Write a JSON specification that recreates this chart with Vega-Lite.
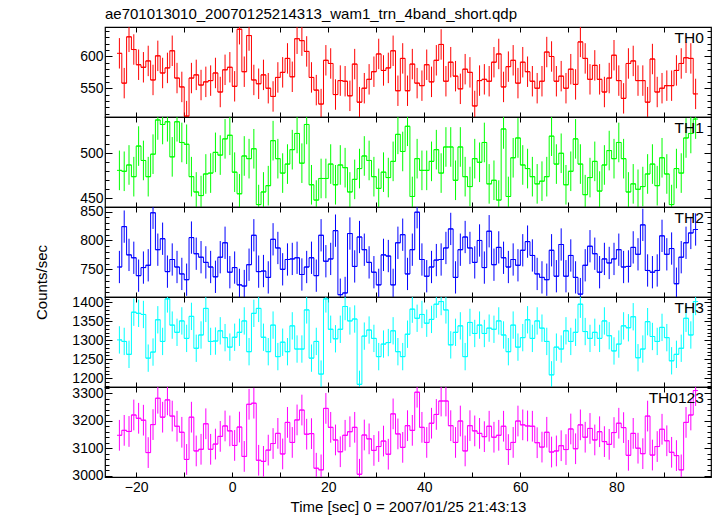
{
"$schema":"https://vega.github.io/schema/vega-lite/v6.json",
"padding":{"left":33,"top":6,"right":5,"bottom":0},
"title":{"text":"ae701013010_20070125214313_wam1_trn_4band_short.qdp","anchor":"start","frame":"group","fontSize":15,"offset":-10,"baseline":"alphabetic"},
"spacing":0,
"bounds":"flush",
"data":{"values":[
{"t":-23.5,"th0":605,"th1":481,"th2":754,"th3":1301,"th0123":3147,"e0":24,"e1":22,"e2":28,"e3":36,"e0123":56},
{"t":-22.5,"th0":558,"th1":480,"th2":824,"th3":1297,"th0123":3165,"e0":24,"e1":22,"e2":28,"e3":36,"e0123":56},
{"t":-21.5,"th0":631,"th1":487,"th2":775,"th3":1263,"th0123":3161,"e0":24,"e1":22,"e2":28,"e3":36,"e0123":56},
{"t":-20.5,"th0":611,"th1":474,"th2":770,"th3":1374,"th0123":3221,"e0":24,"e1":22,"e2":28,"e3":36,"e0123":56},
{"t":-19.5,"th0":587,"th1":508,"th2":739,"th3":1371,"th0123":3209,"e0":24,"e1":22,"e2":28,"e3":36,"e0123":56},
{"t":-18.5,"th0":583,"th1":492,"th2":753,"th3":1368,"th0123":3202,"e0":24,"e1":22,"e2":28,"e3":36,"e0123":56},
{"t":-17.5,"th0":593,"th1":474,"th2":757,"th3":1253,"th0123":3084,"e0":24,"e1":22,"e2":28,"e3":36,"e0123":56},
{"t":-16.5,"th0":563,"th1":499,"th2":848,"th3":1269,"th0123":3186,"e0":24,"e1":22,"e2":28,"e3":36,"e0123":56},
{"t":-15.5,"th0":601,"th1":537,"th2":784,"th3":1354,"th0123":3282,"e0":24,"e1":22,"e2":28,"e3":36,"e0123":56},
{"t":-14.5,"th0":574,"th1":532,"th2":803,"th3":1297,"th0123":3213,"e0":24,"e1":22,"e2":28,"e3":36,"e0123":56},
{"t":-13.5,"th0":582,"th1":535,"th2":746,"th3":1409,"th0123":3276,"e0":24,"e1":22,"e2":28,"e3":36,"e0123":56},
{"t":-12.5,"th0":609,"th1":496,"th2":767,"th3":1340,"th0123":3217,"e0":24,"e1":22,"e2":28,"e3":36,"e0123":56},
{"t":-11.5,"th0":566,"th1":535,"th2":754,"th3":1321,"th0123":3180,"e0":24,"e1":22,"e2":28,"e3":36,"e0123":56},
{"t":-10.5,"th0":552,"th1":512,"th2":742,"th3":1351,"th0123":3158,"e0":24,"e1":22,"e2":28,"e3":36,"e0123":56},
{"t":-9.5,"th0":506,"th1":510,"th2":732,"th3":1305,"th0123":3059,"e0":24,"e1":22,"e2":28,"e3":36,"e0123":56},
{"t":-8.5,"th0":566,"th1":474,"th2":805,"th3":1363,"th0123":3213,"e0":24,"e1":22,"e2":28,"e3":36,"e0123":56},
{"t":-7.5,"th0":571,"th1":457,"th2":777,"th3":1279,"th0123":3090,"e0":24,"e1":22,"e2":28,"e3":36,"e0123":56},
{"t":-6.5,"th0":555,"th1":453,"th2":771,"th3":1314,"th0123":3096,"e0":24,"e1":22,"e2":28,"e3":36,"e0123":56},
{"t":-5.5,"th0":560,"th1":477,"th2":762,"th3":1384,"th0123":3189,"e0":24,"e1":22,"e2":28,"e3":36,"e0123":56},
{"t":-4.5,"th0":562,"th1":478,"th2":754,"th3":1297,"th0123":3096,"e0":24,"e1":22,"e2":28,"e3":36,"e0123":56},
{"t":-3.5,"th0":574,"th1":501,"th2":737,"th3":1298,"th0123":3115,"e0":24,"e1":22,"e2":28,"e3":36,"e0123":56},
{"t":-2.5,"th0":544,"th1":498,"th2":771,"th3":1325,"th0123":3143,"e0":24,"e1":22,"e2":28,"e3":36,"e0123":56},
{"t":-1.5,"th0":579,"th1":516,"th2":796,"th3":1307,"th0123":3181,"e0":24,"e1":22,"e2":28,"e3":36,"e0123":56},
{"t":-0.5,"th0":583,"th1":520,"th2":745,"th3":1282,"th0123":3163,"e0":24,"e1":22,"e2":28,"e3":36,"e0123":56},
{"t":0.5,"th0":553,"th1":479,"th2":753,"th3":1308,"th0123":3110,"e0":24,"e1":22,"e2":28,"e3":36,"e0123":56},
{"t":1.5,"th0":643,"th1":455,"th2":723,"th3":1321,"th0123":3177,"e0":24,"e1":22,"e2":28,"e3":36,"e0123":56},
{"t":2.5,"th0":576,"th1":497,"th2":721,"th3":1351,"th0123":3070,"e0":24,"e1":22,"e2":28,"e3":36,"e0123":56},
{"t":3.5,"th0":633,"th1":494,"th2":758,"th3":1270,"th0123":3260,"e0":24,"e1":22,"e2":28,"e3":36,"e0123":56},
{"t":4.5,"th0":563,"th1":505,"th2":809,"th3":1371,"th0123":3264,"e0":24,"e1":22,"e2":28,"e3":36,"e0123":56},
{"t":5.5,"th0":557,"th1":443,"th2":746,"th3":1384,"th0123":3056,"e0":24,"e1":22,"e2":28,"e3":36,"e0123":56},
{"t":6.5,"th0":571,"th1":457,"th2":747,"th3":1308,"th0123":3052,"e0":24,"e1":22,"e2":28,"e3":36,"e0123":56},
{"t":7.5,"th0":550,"th1":464,"th2":736,"th3":1270,"th0123":3093,"e0":24,"e1":22,"e2":28,"e3":36,"e0123":56},
{"t":8.5,"th0":537,"th1":514,"th2":802,"th3":1340,"th0123":3117,"e0":24,"e1":22,"e2":28,"e3":36,"e0123":56},
{"t":9.5,"th0":567,"th1":494,"th2":787,"th3":1257,"th0123":3154,"e0":24,"e1":22,"e2":28,"e3":36,"e0123":56},
{"t":10.5,"th0":575,"th1":478,"th2":750,"th3":1295,"th0123":3079,"e0":24,"e1":22,"e2":28,"e3":36,"e0123":56},
{"t":11.5,"th0":597,"th1":488,"th2":767,"th3":1270,"th0123":3194,"e0":24,"e1":22,"e2":28,"e3":36,"e0123":56},
{"t":12.5,"th0":568,"th1":504,"th2":768,"th3":1338,"th0123":3121,"e0":24,"e1":22,"e2":28,"e3":36,"e0123":56},
{"t":13.5,"th0":628,"th1":522,"th2":770,"th3":1277,"th0123":3203,"e0":24,"e1":22,"e2":28,"e3":36,"e0123":56},
{"t":14.5,"th0":625,"th1":489,"th2":741,"th3":1277,"th0123":3239,"e0":24,"e1":22,"e2":28,"e3":36,"e0123":56},
{"t":15.5,"th0":608,"th1":532,"th2":754,"th3":1380,"th0123":3151,"e0":24,"e1":22,"e2":28,"e3":36,"e0123":56},
{"t":16.5,"th0":567,"th1":465,"th2":770,"th3":1253,"th0123":3153,"e0":24,"e1":22,"e2":28,"e3":36,"e0123":56},
{"t":17.5,"th0":547,"th1":448,"th2":739,"th3":1297,"th0123":3027,"e0":24,"e1":22,"e2":28,"e3":36,"e0123":56},
{"t":18.5,"th0":525,"th1":472,"th2":809,"th3":1211,"th0123":3021,"e0":24,"e1":22,"e2":28,"e3":36,"e0123":56},
{"t":19.5,"th0":594,"th1":472,"th2":764,"th3":1409,"th0123":3245,"e0":24,"e1":22,"e2":28,"e3":36,"e0123":56},
{"t":20.5,"th0":589,"th1":488,"th2":768,"th3":1329,"th0123":3176,"e0":24,"e1":22,"e2":28,"e3":36,"e0123":56},
{"t":21.5,"th0":540,"th1":465,"th2":817,"th3":1304,"th0123":3130,"e0":24,"e1":22,"e2":28,"e3":36,"e0123":56},
{"t":22.5,"th0":562,"th1":487,"th2":706,"th3":1329,"th0123":3087,"e0":24,"e1":22,"e2":28,"e3":36,"e0123":56},
{"t":23.5,"th0":561,"th1":484,"th2":709,"th3":1389,"th0123":3147,"e0":24,"e1":22,"e2":28,"e3":36,"e0123":56},
{"t":24.5,"th0":538,"th1":457,"th2":812,"th3":1351,"th0123":3160,"e0":24,"e1":22,"e2":28,"e3":36,"e0123":56},
{"t":25.5,"th0":588,"th1":471,"th2":755,"th3":1356,"th0123":3176,"e0":24,"e1":22,"e2":28,"e3":36,"e0123":56},
{"t":26.5,"th0":528,"th1":483,"th2":806,"th3":1184,"th0123":3005,"e0":24,"e1":22,"e2":28,"e3":36,"e0123":56},
{"t":27.5,"th0":550,"th1":497,"th2":784,"th3":1311,"th0123":3148,"e0":24,"e1":22,"e2":28,"e3":36,"e0123":56},
{"t":28.5,"th0":564,"th1":492,"th2":762,"th3":1327,"th0123":3134,"e0":24,"e1":22,"e2":28,"e3":36,"e0123":56},
{"t":29.5,"th0":576,"th1":474,"th2":745,"th3":1305,"th0123":3092,"e0":24,"e1":22,"e2":28,"e3":36,"e0123":56},
{"t":30.5,"th0":604,"th1":461,"th2":723,"th3":1257,"th0123":3106,"e0":24,"e1":22,"e2":28,"e3":36,"e0123":56},
{"t":31.5,"th0":578,"th1":479,"th2":775,"th3":1290,"th0123":3126,"e0":24,"e1":22,"e2":28,"e3":36,"e0123":56},
{"t":32.5,"th0":582,"th1":473,"th2":773,"th3":1294,"th0123":3078,"e0":24,"e1":22,"e2":28,"e3":36,"e0123":56},
{"t":33.5,"th0":609,"th1":491,"th2":723,"th3":1325,"th0123":3225,"e0":24,"e1":22,"e2":28,"e3":36,"e0123":56},
{"t":34.5,"th0":546,"th1":521,"th2":796,"th3":1270,"th0123":3152,"e0":24,"e1":22,"e2":28,"e3":36,"e0123":56},
{"t":35.5,"th0":597,"th1":502,"th2":810,"th3":1257,"th0123":3103,"e0":24,"e1":22,"e2":28,"e3":36,"e0123":56},
{"t":36.5,"th0":546,"th1":530,"th2":742,"th3":1316,"th0123":3182,"e0":24,"e1":22,"e2":28,"e3":36,"e0123":56},
{"t":37.5,"th0":588,"th1":452,"th2":784,"th3":1382,"th0123":3165,"e0":24,"e1":22,"e2":28,"e3":36,"e0123":56},
{"t":38.5,"th0":558,"th1":494,"th2":849,"th3":1358,"th0123":3304,"e0":24,"e1":22,"e2":28,"e3":36,"e0123":56},
{"t":39.5,"th0":554,"th1":481,"th2":767,"th3":1368,"th0123":3176,"e0":24,"e1":22,"e2":28,"e3":36,"e0123":56},
{"t":40.5,"th0":587,"th1":481,"th2":738,"th3":1345,"th0123":3121,"e0":24,"e1":22,"e2":28,"e3":36,"e0123":56},
{"t":41.5,"th0":560,"th1":491,"th2":754,"th3":1355,"th0123":3191,"e0":24,"e1":22,"e2":28,"e3":36,"e0123":56},
{"t":42.5,"th0":594,"th1":504,"th2":766,"th3":1395,"th0123":3223,"e0":24,"e1":22,"e2":28,"e3":36,"e0123":56},
{"t":43.5,"th0":619,"th1":478,"th2":767,"th3":1402,"th0123":3272,"e0":24,"e1":22,"e2":28,"e3":36,"e0123":56},
{"t":44.5,"th0":561,"th1":507,"th2":787,"th3":1380,"th0123":3272,"e0":24,"e1":22,"e2":28,"e3":36,"e0123":56},
{"t":45.5,"th0":591,"th1":507,"th2":820,"th3":1288,"th0123":3182,"e0":24,"e1":22,"e2":28,"e3":36,"e0123":56},
{"t":46.5,"th0":569,"th1":470,"th2":736,"th3":1321,"th0123":3121,"e0":24,"e1":22,"e2":28,"e3":36,"e0123":56},
{"t":47.5,"th0":549,"th1":507,"th2":784,"th3":1338,"th0123":3199,"e0":24,"e1":22,"e2":28,"e3":36,"e0123":56},
{"t":48.5,"th0":580,"th1":474,"th2":806,"th3":1257,"th0123":3090,"e0":24,"e1":22,"e2":28,"e3":36,"e0123":56},
{"t":49.5,"th0":575,"th1":463,"th2":787,"th3":1347,"th0123":3182,"e0":24,"e1":22,"e2":28,"e3":36,"e0123":56},
{"t":50.5,"th0":522,"th1":494,"th2":762,"th3":1318,"th0123":3163,"e0":24,"e1":22,"e2":28,"e3":36,"e0123":56},
{"t":51.5,"th0":562,"th1":490,"th2":800,"th3":1340,"th0123":3154,"e0":24,"e1":22,"e2":28,"e3":36,"e0123":56},
{"t":52.5,"th0":564,"th1":512,"th2":753,"th3":1318,"th0123":3142,"e0":24,"e1":22,"e2":28,"e3":36,"e0123":56},
{"t":53.5,"th0":561,"th1":466,"th2":816,"th3":1332,"th0123":3180,"e0":24,"e1":22,"e2":28,"e3":36,"e0123":56},
{"t":54.5,"th0":591,"th1":470,"th2":758,"th3":1329,"th0123":3140,"e0":24,"e1":22,"e2":28,"e3":36,"e0123":56},
{"t":55.5,"th0":604,"th1":448,"th2":788,"th3":1351,"th0123":3147,"e0":24,"e1":22,"e2":28,"e3":36,"e0123":56},
{"t":56.5,"th0":552,"th1":527,"th2":770,"th3":1314,"th0123":3180,"e0":24,"e1":22,"e2":28,"e3":36,"e0123":56},
{"t":57.5,"th0":584,"th1":452,"th2":754,"th3":1270,"th0123":3095,"e0":24,"e1":22,"e2":28,"e3":36,"e0123":56},
{"t":58.5,"th0":594,"th1":495,"th2":767,"th3":1340,"th0123":3121,"e0":24,"e1":22,"e2":28,"e3":36,"e0123":56},
{"t":59.5,"th0":558,"th1":517,"th2":757,"th3":1282,"th0123":3199,"e0":24,"e1":22,"e2":28,"e3":36,"e0123":56},
{"t":60.5,"th0":591,"th1":487,"th2":783,"th3":1307,"th0123":3185,"e0":24,"e1":22,"e2":28,"e3":36,"e0123":56},
{"t":61.5,"th0":576,"th1":483,"th2":798,"th3":1354,"th0123":3181,"e0":24,"e1":22,"e2":28,"e3":36,"e0123":56},
{"t":62.5,"th0":561,"th1":474,"th2":774,"th3":1305,"th0123":3180,"e0":24,"e1":22,"e2":28,"e3":36,"e0123":56},
{"t":63.5,"th0":550,"th1":466,"th2":742,"th3":1351,"th0123":3120,"e0":24,"e1":22,"e2":28,"e3":36,"e0123":56},
{"t":64.5,"th0":561,"th1":469,"th2":736,"th3":1332,"th0123":3104,"e0":24,"e1":22,"e2":28,"e3":36,"e0123":56},
{"t":65.5,"th0":607,"th1":474,"th2":732,"th3":1297,"th0123":3158,"e0":24,"e1":22,"e2":28,"e3":36,"e0123":56},
{"t":66.5,"th0":600,"th1":519,"th2":783,"th3":1209,"th0123":3086,"e0":24,"e1":22,"e2":28,"e3":36,"e0123":56},
{"t":67.5,"th0":561,"th1":488,"th2":738,"th3":1282,"th0123":3090,"e0":24,"e1":22,"e2":28,"e3":36,"e0123":56},
{"t":68.5,"th0":569,"th1":500,"th2":793,"th3":1277,"th0123":3109,"e0":24,"e1":22,"e2":28,"e3":36,"e0123":56},
{"t":69.5,"th0":550,"th1":465,"th2":738,"th3":1325,"th0123":3095,"e0":24,"e1":22,"e2":28,"e3":36,"e0123":56},
{"t":70.5,"th0":580,"th1":480,"th2":774,"th3":1297,"th0123":3170,"e0":24,"e1":22,"e2":28,"e3":36,"e0123":56},
{"t":71.5,"th0":556,"th1":516,"th2":736,"th3":1321,"th0123":3098,"e0":24,"e1":22,"e2":28,"e3":36,"e0123":56},
{"t":72.5,"th0":623,"th1":488,"th2":707,"th3":1395,"th0123":3185,"e0":24,"e1":22,"e2":28,"e3":36,"e0123":56},
{"t":73.5,"th0":597,"th1":454,"th2":757,"th3":1323,"th0123":3140,"e0":24,"e1":22,"e2":28,"e3":36,"e0123":56},
{"t":74.5,"th0":564,"th1":473,"th2":790,"th3":1305,"th0123":3172,"e0":24,"e1":22,"e2":28,"e3":36,"e0123":56},
{"t":75.5,"th0":586,"th1":491,"th2":777,"th3":1321,"th0123":3130,"e0":24,"e1":22,"e2":28,"e3":36,"e0123":56},
{"t":76.5,"th0":564,"th1":458,"th2":745,"th3":1305,"th0123":3160,"e0":24,"e1":22,"e2":28,"e3":36,"e0123":56},
{"t":77.5,"th0":544,"th1":487,"th2":768,"th3":1351,"th0123":3124,"e0":24,"e1":22,"e2":28,"e3":36,"e0123":56},
{"t":78.5,"th0":566,"th1":503,"th2":761,"th3":1312,"th0123":3114,"e0":24,"e1":22,"e2":28,"e3":36,"e0123":56},
{"t":79.5,"th0":602,"th1":494,"th2":768,"th3":1272,"th0123":3157,"e0":24,"e1":22,"e2":28,"e3":36,"e0123":56},
{"t":80.5,"th0":562,"th1":512,"th2":784,"th3":1290,"th0123":3191,"e0":24,"e1":22,"e2":28,"e3":36,"e0123":56},
{"t":81.5,"th0":534,"th1":494,"th2":754,"th3":1338,"th0123":3175,"e0":24,"e1":22,"e2":28,"e3":36,"e0123":56},
{"t":82.5,"th0":589,"th1":457,"th2":755,"th3":1333,"th0123":3074,"e0":24,"e1":22,"e2":28,"e3":36,"e0123":56},
{"t":83.5,"th0":593,"th1":466,"th2":788,"th3":1362,"th0123":3154,"e0":24,"e1":22,"e2":28,"e3":36,"e0123":56},
{"t":84.5,"th0":562,"th1":460,"th2":776,"th3":1254,"th0123":3100,"e0":24,"e1":22,"e2":28,"e3":36,"e0123":56},
{"t":85.5,"th0":562,"th1":463,"th2":827,"th3":1277,"th0123":3080,"e0":24,"e1":22,"e2":28,"e3":36,"e0123":56},
{"t":86.5,"th0":528,"th1":477,"th2":748,"th3":1349,"th0123":3217,"e0":24,"e1":22,"e2":28,"e3":36,"e0123":56},
{"t":87.5,"th0":596,"th1":488,"th2":745,"th3":1310,"th0123":3075,"e0":24,"e1":22,"e2":28,"e3":36,"e0123":56},
{"t":88.5,"th0":544,"th1":464,"th2":748,"th3":1297,"th0123":3106,"e0":24,"e1":22,"e2":28,"e3":36,"e0123":56},
{"t":89.5,"th0":550,"th1":495,"th2":808,"th3":1334,"th0123":3169,"e0":24,"e1":22,"e2":28,"e3":36,"e0123":56},
{"t":90.5,"th0":554,"th1":477,"th2":776,"th3":1307,"th0123":3127,"e0":24,"e1":22,"e2":28,"e3":36,"e0123":56},
{"t":91.5,"th0":554,"th1":443,"th2":786,"th3":1246,"th0123":3085,"e0":24,"e1":22,"e2":28,"e3":36,"e0123":56},
{"t":92.5,"th0":578,"th1":483,"th2":725,"th3":1263,"th0123":3073,"e0":24,"e1":22,"e2":28,"e3":36,"e0123":56},
{"t":93.5,"th0":589,"th1":478,"th2":771,"th3":1279,"th0123":3021,"e0":24,"e1":22,"e2":28,"e3":36,"e0123":56},
{"t":94.5,"th0":598,"th1":517,"th2":796,"th3":1358,"th0123":3194,"e0":24,"e1":22,"e2":28,"e3":36,"e0123":56},
{"t":95.5,"th0":597,"th1":522,"th2":813,"th3":1314,"th0123":3221,"e0":24,"e1":22,"e2":28,"e3":36,"e0123":56},
{"t":96.5,"th0":541,"th1":538,"th2":819,"th3":1402,"th0123":3310,"e0":24,"e1":22,"e2":28,"e3":36,"e0123":56}
]},
"vconcat":[
{"width":606,"height":90,
 "layer":[
  {"mark":{"type":"errorbar","color":"#ff0000","clip":true},
   "encoding":{"x":{"field":"t","type":"quantitative","scale":{"domain":[-26.5,99.7],"nice":false,"zero":false},"axis":null},
    "y":{"field":"th0","type":"quantitative","scale":{"domain":[504.6,646.5],"nice":false,"zero":false},"axis":null},
    "yError":{"field":"e0"}}},
  {"mark":{"type":"line","interpolate":"step","color":"#ff0000","strokeWidth":1,"clip":true},
   "encoding":{"x":{"field":"t","type":"quantitative","scale":{"domain":[-26.5,99.7],"nice":false,"zero":false},
     "axis":{"orient":"bottom","values":[-20,-10,0,10,20,30,40,50,60,70,80,90],"tickSize":-5,"labels":false,"domain":false,"grid":false,"title":null}},
    "y":{"field":"th0","type":"quantitative","scale":{"domain":[504.6,646.5],"nice":false,"zero":false},
     "axis":{"orient":"left","values":[510,520,530,540,550,560,570,580,590,600,610,620,630,640],"format":"d","labelExpr":"datum.value % 50 === 0 ? datum.label : ''","tickSize":{"condition":{"test":"datum.value % 50 === 0","value":-7},"value":-4},"labelPadding":9,"minExtent":45,"maxExtent":45,"domain":false,"grid":false,"title":null}}}},
  {"transform":[{"bin":{"step":1,"extent":[-24,97]},"field":"t","as":["t0","t1"]}],
   "mark":{"type":"rule","color":"#ff0000","strokeWidth":1,"clip":true},
   "encoding":{"x":{"field":"t0","type":"quantitative","scale":{"domain":[-26.5,99.7],"nice":false,"zero":false},
     "axis":{"orient":"top","values":[-20,-10,0,10,20,30,40,50,60,70,80,90],"tickSize":-5,"labels":false,"domain":false,"grid":false,"title":null}},
    "x2":{"field":"t1"},
    "y":{"field":"th0","type":"quantitative","scale":{"domain":[504.6,646.5],"nice":false,"zero":false},
     "axis":{"orient":"right","values":[510,520,530,540,550,560,570,580,590,600,610,620,630,640],"labels":false,"tickSize":{"condition":{"test":"datum.value % 50 === 0","value":-7},"value":-4},"domain":false,"grid":false,"title":null}}}},
  {"data":{"values":[{"label":"TH0"}]},
   "mark":{"type":"text","align":"right","baseline":"alphabetic","fontSize":15.5,"color":"black","font":"Liberation Sans"},
   "encoding":{"text":{"field":"label"},
    "x":{"datum":98.2,"type":"quantitative","scale":{"domain":[-26.5,99.7],"nice":false,"zero":false},"axis":null},
    "y":{"datum":621.3,"type":"quantitative","scale":{"domain":[504.6,646.5],"nice":false,"zero":false},"axis":null}}}
 ],
 "resolve":{"axis":{"x":"independent","y":"independent"}}},
{"width":606,"height":90,
 "layer":[
  {"mark":{"type":"errorbar","color":"#00ff00","clip":true},
   "encoding":{"x":{"field":"t","type":"quantitative","scale":{"domain":[-26.5,99.7],"nice":false,"zero":false},"axis":null},
    "y":{"field":"th1","type":"quantitative","scale":{"domain":[440.3,540.3],"nice":false,"zero":false},"axis":null},
    "yError":{"field":"e1"}}},
  {"mark":{"type":"line","interpolate":"step","color":"#00ff00","strokeWidth":1,"clip":true},
   "encoding":{"x":{"field":"t","type":"quantitative","scale":{"domain":[-26.5,99.7],"nice":false,"zero":false},
     "axis":{"orient":"bottom","values":[-20,-10,0,10,20,30,40,50,60,70,80,90],"tickSize":-5,"labels":false,"domain":false,"grid":false,"title":null}},
    "y":{"field":"th1","type":"quantitative","scale":{"domain":[440.3,540.3],"nice":false,"zero":false},
     "axis":{"orient":"left","values":[450,460,470,480,490,500,510,520,530,540],"format":"d","labelExpr":"datum.value % 50 === 0 ? datum.label : ''","tickSize":{"condition":{"test":"datum.value % 50 === 0","value":-7},"value":-4},"labelPadding":9,"minExtent":45,"maxExtent":45,"domain":false,"grid":false,"title":null}}}},
  {"transform":[{"bin":{"step":1,"extent":[-24,97]},"field":"t","as":["t0","t1"]}],
   "mark":{"type":"rule","color":"#00ff00","strokeWidth":1,"clip":true},
   "encoding":{"x":{"field":"t0","type":"quantitative","scale":{"domain":[-26.5,99.7],"nice":false,"zero":false},
     "axis":{"orient":"top","values":[-20,-10,0,10,20,30,40,50,60,70,80,90],"tickSize":-5,"labels":false,"domain":false,"grid":false,"title":null}},
    "x2":{"field":"t1"},
    "y":{"field":"th1","type":"quantitative","scale":{"domain":[440.3,540.3],"nice":false,"zero":false},
     "axis":{"orient":"right","values":[450,460,470,480,490,500,510,520,530,540],"labels":false,"tickSize":{"condition":{"test":"datum.value % 50 === 0","value":-7},"value":-4},"domain":false,"grid":false,"title":null}}}},
  {"data":{"values":[{"label":"TH1"}]},
   "mark":{"type":"text","align":"right","baseline":"alphabetic","fontSize":15.5,"color":"black","font":"Liberation Sans"},
   "encoding":{"text":{"field":"label"},
    "x":{"datum":98.2,"type":"quantitative","scale":{"domain":[-26.5,99.7],"nice":false,"zero":false},"axis":null},
    "y":{"datum":522.5,"type":"quantitative","scale":{"domain":[440.3,540.3],"nice":false,"zero":false},"axis":null}}}
 ],
 "resolve":{"axis":{"x":"independent","y":"independent"}}},
{"width":606,"height":90,
 "layer":[
  {"mark":{"type":"errorbar","color":"#0000ff","clip":true},
   "encoding":{"x":{"field":"t","type":"quantitative","scale":{"domain":[-26.5,99.7],"nice":false,"zero":false},"axis":null},
    "y":{"field":"th2","type":"quantitative","scale":{"domain":[702,858],"nice":false,"zero":false},"axis":null},
    "yError":{"field":"e2"}}},
  {"mark":{"type":"line","interpolate":"step","color":"#0000ff","strokeWidth":1,"clip":true},
   "encoding":{"x":{"field":"t","type":"quantitative","scale":{"domain":[-26.5,99.7],"nice":false,"zero":false},
     "axis":{"orient":"bottom","values":[-20,-10,0,10,20,30,40,50,60,70,80,90],"tickSize":-5,"labels":false,"domain":false,"grid":false,"title":null}},
    "y":{"field":"th2","type":"quantitative","scale":{"domain":[702,858],"nice":false,"zero":false},
     "axis":{"orient":"left","values":[710,720,730,740,750,760,770,780,790,800,810,820,830,840,850],"format":"d","labelExpr":"datum.value % 50 === 0 ? datum.label : ''","tickSize":{"condition":{"test":"datum.value % 50 === 0","value":-7},"value":-4},"labelPadding":9,"minExtent":45,"maxExtent":45,"domain":false,"grid":false,"title":"Counts/sec","titlePadding":11,"titleAlign":"center","titleY":75}}}},
  {"transform":[{"bin":{"step":1,"extent":[-24,97]},"field":"t","as":["t0","t1"]}],
   "mark":{"type":"rule","color":"#0000ff","strokeWidth":1,"clip":true},
   "encoding":{"x":{"field":"t0","type":"quantitative","scale":{"domain":[-26.5,99.7],"nice":false,"zero":false},
     "axis":{"orient":"top","values":[-20,-10,0,10,20,30,40,50,60,70,80,90],"tickSize":-5,"labels":false,"domain":false,"grid":false,"title":null}},
    "x2":{"field":"t1"},
    "y":{"field":"th2","type":"quantitative","scale":{"domain":[702,858],"nice":false,"zero":false},
     "axis":{"orient":"right","values":[710,720,730,740,750,760,770,780,790,800,810,820,830,840,850],"labels":false,"tickSize":{"condition":{"test":"datum.value % 50 === 0","value":-7},"value":-4},"domain":false,"grid":false,"title":null}}}},
  {"data":{"values":[{"label":"TH2"}]},
   "mark":{"type":"text","align":"right","baseline":"alphabetic","fontSize":15.5,"color":"black","font":"Liberation Sans"},
   "encoding":{"text":{"field":"label"},
    "x":{"datum":98.2,"type":"quantitative","scale":{"domain":[-26.5,99.7],"nice":false,"zero":false},"axis":null},
    "y":{"datum":830.3,"type":"quantitative","scale":{"domain":[702,858],"nice":false,"zero":false},"axis":null}}}
 ],
 "resolve":{"axis":{"x":"independent","y":"independent"}}},
{"width":606,"height":90,
 "layer":[
  {"mark":{"type":"errorbar","color":"#00ffff","clip":true},
   "encoding":{"x":{"field":"t","type":"quantitative","scale":{"domain":[-26.5,99.7],"nice":false,"zero":false},"axis":null},
    "y":{"field":"th3","type":"quantitative","scale":{"domain":[1177,1414],"nice":false,"zero":false},"axis":null},
    "yError":{"field":"e3"}}},
  {"mark":{"type":"line","interpolate":"step","color":"#00ffff","strokeWidth":1,"clip":true},
   "encoding":{"x":{"field":"t","type":"quantitative","scale":{"domain":[-26.5,99.7],"nice":false,"zero":false},
     "axis":{"orient":"bottom","values":[-20,-10,0,10,20,30,40,50,60,70,80,90],"tickSize":-5,"labels":false,"domain":false,"grid":false,"title":null}},
    "y":{"field":"th3","type":"quantitative","scale":{"domain":[1177,1414],"nice":false,"zero":false},
     "axis":{"orient":"left","values":[1180,1190,1200,1210,1220,1230,1240,1250,1260,1270,1280,1290,1300,1310,1320,1330,1340,1350,1360,1370,1380,1390,1400,1410],"format":"d","labelExpr":"datum.value % 50 === 0 ? datum.label : ''","tickSize":{"condition":{"test":"datum.value % 50 === 0","value":-7},"value":-4},"labelPadding":9,"minExtent":45,"maxExtent":45,"domain":false,"grid":false,"title":null}}}},
  {"transform":[{"bin":{"step":1,"extent":[-24,97]},"field":"t","as":["t0","t1"]}],
   "mark":{"type":"rule","color":"#00ffff","strokeWidth":1,"clip":true},
   "encoding":{"x":{"field":"t0","type":"quantitative","scale":{"domain":[-26.5,99.7],"nice":false,"zero":false},
     "axis":{"orient":"top","values":[-20,-10,0,10,20,30,40,50,60,70,80,90],"tickSize":-5,"labels":false,"domain":false,"grid":false,"title":null}},
    "x2":{"field":"t1"},
    "y":{"field":"th3","type":"quantitative","scale":{"domain":[1177,1414],"nice":false,"zero":false},
     "axis":{"orient":"right","values":[1180,1190,1200,1210,1220,1230,1240,1250,1260,1270,1280,1290,1300,1310,1320,1330,1340,1350,1360,1370,1380,1390,1400,1410],"labels":false,"tickSize":{"condition":{"test":"datum.value % 50 === 0","value":-7},"value":-4},"domain":false,"grid":false,"title":null}}}},
  {"data":{"values":[{"label":"TH3"}]},
   "mark":{"type":"text","align":"right","baseline":"alphabetic","fontSize":15.5,"color":"black","font":"Liberation Sans"},
   "encoding":{"text":{"field":"label"},
    "x":{"datum":98.2,"type":"quantitative","scale":{"domain":[-26.5,99.7],"nice":false,"zero":false},"axis":null},
    "y":{"datum":1371.9,"type":"quantitative","scale":{"domain":[1177,1414],"nice":false,"zero":false},"axis":null}}}
 ],
 "resolve":{"axis":{"x":"independent","y":"independent"}}},
{"width":606,"height":90,
 "layer":[
  {"mark":{"type":"errorbar","color":"#ff00ff","clip":true},
   "encoding":{"x":{"field":"t","type":"quantitative","scale":{"domain":[-26.5,99.7],"nice":false,"zero":false},"axis":null},
    "y":{"field":"th0123","type":"quantitative","scale":{"domain":[2995,3323],"nice":false,"zero":false},"axis":null},
    "yError":{"field":"e0123"}}},
  {"mark":{"type":"line","interpolate":"step","color":"#ff00ff","strokeWidth":1,"clip":true},
   "encoding":{"x":{"field":"t","type":"quantitative","scale":{"domain":[-26.5,99.7],"nice":false,"zero":false},
     "axis":{"orient":"bottom","values":[-20,-10,0,10,20,30,40,50,60,70,80,90],"tickSize":-5,"format":"d","labelExpr":"datum.value % 20 === 0 ? datum.label : ''","labelPadding":8,"domain":false,"grid":false,"title":"Time [sec] 0 = 2007/01/25 21:43:13","titlePadding":5}},
    "y":{"field":"th0123","type":"quantitative","scale":{"domain":[2995,3323],"nice":false,"zero":false},
     "axis":{"orient":"left","values":[3000,3020,3040,3060,3080,3100,3120,3140,3160,3180,3200,3220,3240,3260,3280,3300,3320],"format":"d","labelExpr":"datum.value % 100 === 0 ? datum.label : ''","tickSize":{"condition":{"test":"datum.value % 100 === 0","value":-7},"value":-4},"labelPadding":9,"minExtent":45,"maxExtent":45,"domain":false,"grid":false,"title":null}}}},
  {"transform":[{"bin":{"step":1,"extent":[-24,97]},"field":"t","as":["t0","t1"]}],
   "mark":{"type":"rule","color":"#ff00ff","strokeWidth":1,"clip":true},
   "encoding":{"x":{"field":"t0","type":"quantitative","scale":{"domain":[-26.5,99.7],"nice":false,"zero":false},
     "axis":{"orient":"top","values":[-20,-10,0,10,20,30,40,50,60,70,80,90],"tickSize":-5,"labels":false,"domain":false,"grid":false,"title":null}},
    "x2":{"field":"t1"},
    "y":{"field":"th0123","type":"quantitative","scale":{"domain":[2995,3323],"nice":false,"zero":false},
     "axis":{"orient":"right","values":[3000,3020,3040,3060,3080,3100,3120,3140,3160,3180,3200,3220,3240,3260,3280,3300,3320],"labels":false,"tickSize":{"condition":{"test":"datum.value % 100 === 0","value":-7},"value":-4},"domain":false,"grid":false,"title":null}}}},
  {"data":{"values":[{"label":"TH0123"}]},
   "mark":{"type":"text","align":"right","baseline":"alphabetic","fontSize":15.5,"color":"black","font":"Liberation Sans"},
   "encoding":{"text":{"field":"label"},
    "x":{"datum":98.2,"type":"quantitative","scale":{"domain":[-26.5,99.7],"nice":false,"zero":false},"axis":null},
    "y":{"datum":3264.7,"type":"quantitative","scale":{"domain":[2995,3323],"nice":false,"zero":false},"axis":null}}}
 ],
 "resolve":{"axis":{"x":"independent","y":"independent"}}}
],
"config":{
 "font":"Liberation Sans",
 "view":{"stroke":"black","strokeWidth":1.2},
 "axis":{"labelFont":"Liberation Sans","labelFontSize":14,"labelColor":"black","tickColor":"black","tickWidth":1,"titleFont":"Liberation Sans","titleFontSize":15,"titleFontWeight":"normal","titleColor":"black","labelOverlap":false,"labelFlush":false},
 "title":{"font":"Liberation Sans","fontWeight":"normal","color":"black"}
}
}
